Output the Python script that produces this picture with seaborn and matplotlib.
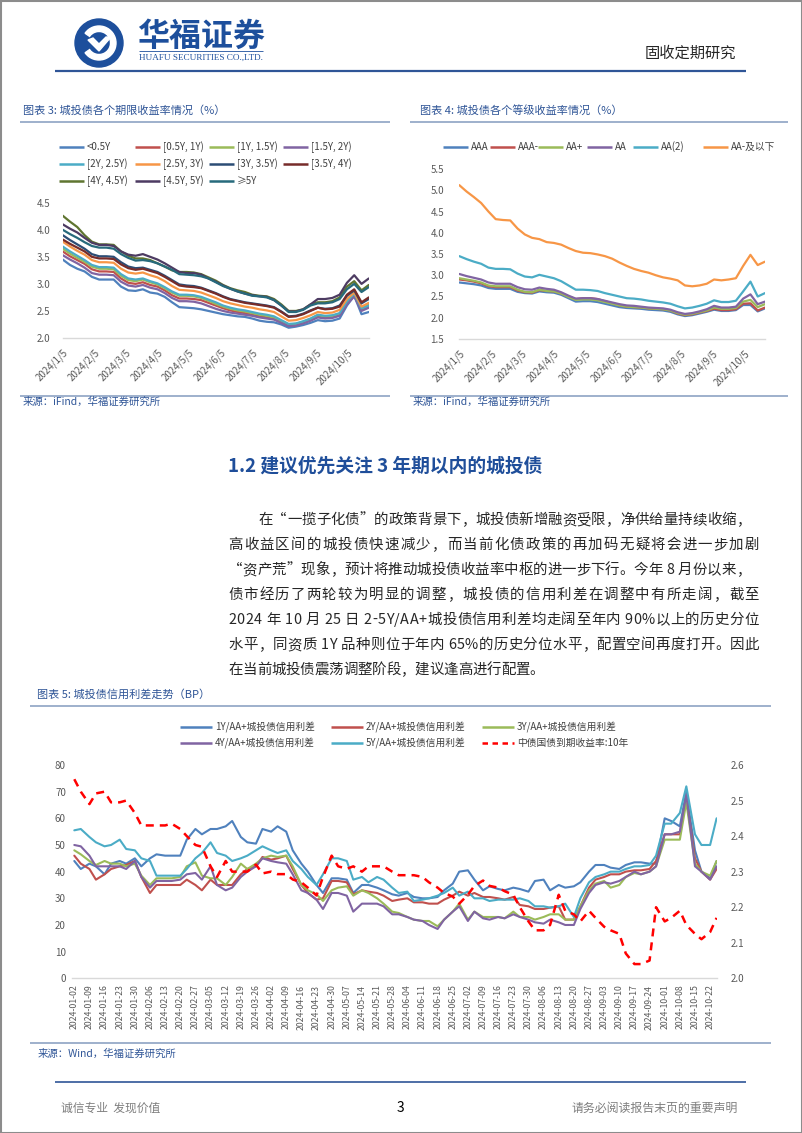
import matplotlib
matplotlib.use("Agg")
import matplotlib.pyplot as plt
from matplotlib.patches import Circle, Wedge, Rectangle, Polygon
from matplotlib.font_manager import FontProperties
import seaborn as sns
import pandas as pd

W, H = 802, 1133
CJK = ['Noto Sans CJK SC', 'DejaVu Sans']

sns.set_theme(style="white")
plt.rcParams['font.family'] = CJK
plt.rcParams['axes.unicode_minus'] = False

# ---------------- chart 3: yields by tenor (weekly) ----------------
tenor_names = ['<0.5Y', '[0.5Y, 1Y)', '[1Y, 1.5Y)', '[1.5Y, 2Y)', '[2Y, 2.5Y)', '[2.5Y, 3Y)',
               '[3Y, 3.5Y)', '[3.5Y, 4Y)', '[4Y, 4.5Y)', '[4.5Y, 5Y)', '≥5Y']
tenor_colors = ['#4f81bd', '#c0504d', '#9bbb59', '#8064a2', '#4bacc6', '#f79646',
                '#2c4d75', '#772c2a', '#5f7530', '#4d3b62', '#276a7c']

y_lt05 = [3.45, 3.35, 3.28, 3.23, 3.13, 3.08, 3.08, 3.08, 2.95, 2.88,
          2.87, 2.90, 2.84, 2.82, 2.76, 2.66, 2.57, 2.56, 2.55, 2.53,
          2.50, 2.47, 2.44, 2.42, 2.40, 2.39, 2.36, 2.32, 2.30, 2.29,
          2.25, 2.19, 2.21, 2.24, 2.28, 2.33, 2.31, 2.32, 2.36, 2.60,
          2.78, 2.44, 2.48]
y_05_1 = [3.60, 3.51, 3.44, 3.37, 3.27, 3.23, 3.23, 3.22, 3.10, 3.02,
          3.00, 3.03, 2.98, 2.95, 2.88, 2.79, 2.73, 2.73, 2.72, 2.70,
          2.65, 2.60, 2.55, 2.51, 2.48, 2.46, 2.43, 2.40, 2.38, 2.35,
          2.29, 2.23, 2.24, 2.28, 2.33, 2.40, 2.38, 2.39, 2.43, 2.64,
          2.79, 2.52, 2.58]
y_1_15 = [3.65, 3.56, 3.48, 3.41, 3.32, 3.28, 3.28, 3.27, 3.15, 3.07,
          3.05, 3.08, 3.03, 2.99, 2.92, 2.84, 2.78, 2.78, 2.77, 2.74,
          2.69, 2.63, 2.58, 2.54, 2.51, 2.49, 2.46, 2.43, 2.41, 2.38,
          2.31, 2.25, 2.26, 2.30, 2.35, 2.42, 2.40, 2.41, 2.45, 2.66,
          2.80, 2.54, 2.62]
y_15_2 = [3.53, 3.45, 3.38, 3.30, 3.20, 3.17, 3.17, 3.16, 3.04, 2.97,
          2.95, 2.98, 2.93, 2.90, 2.83, 2.74, 2.68, 2.68, 2.67, 2.64,
          2.59, 2.54, 2.50, 2.47, 2.45, 2.43, 2.41, 2.38, 2.36, 2.34,
          2.28, 2.22, 2.23, 2.27, 2.32, 2.38, 2.36, 2.37, 2.41, 2.62,
          2.77, 2.50, 2.56]
y_2_25 = [3.69, 3.60, 3.52, 3.44, 3.35, 3.31, 3.31, 3.30, 3.18, 3.10,
          3.08, 3.10, 3.05, 3.01, 2.94, 2.86, 2.80, 2.80, 2.79, 2.76,
          2.71, 2.66, 2.60, 2.56, 2.53, 2.51, 2.48, 2.45, 2.43, 2.40,
          2.33, 2.26, 2.27, 2.31, 2.36, 2.43, 2.41, 2.42, 2.46, 2.68,
          2.82, 2.55, 2.60]
y_25_3 = [3.78, 3.69, 3.61, 3.54, 3.44, 3.40, 3.40, 3.39, 3.28, 3.21,
          3.19, 3.21, 3.16, 3.12, 3.05, 2.96, 2.89, 2.88, 2.87, 2.84,
          2.79, 2.74, 2.68, 2.64, 2.61, 2.58, 2.56, 2.53, 2.51, 2.48,
          2.40, 2.32, 2.33, 2.37, 2.42, 2.48, 2.46, 2.47, 2.52, 2.72,
          2.84, 2.58, 2.65]
y_3_35 = [3.90, 3.81, 3.73, 3.65, 3.55, 3.51, 3.51, 3.50, 3.40, 3.32,
          3.29, 3.30, 3.26, 3.22, 3.15, 3.07, 2.99, 2.97, 2.96, 2.93,
          2.88, 2.83, 2.77, 2.72, 2.69, 2.66, 2.64, 2.62, 2.60, 2.57,
          2.49, 2.40, 2.41, 2.45, 2.51, 2.56, 2.54, 2.55, 2.60, 2.78,
          2.88, 2.64, 2.72]
y_35_4 = [3.82, 3.74, 3.67, 3.60, 3.50, 3.47, 3.47, 3.46, 3.36, 3.29,
          3.26, 3.28, 3.24, 3.20, 3.13, 3.05, 2.97, 2.95, 2.94, 2.92,
          2.87, 2.82, 2.76, 2.71, 2.68, 2.65, 2.63, 2.61, 2.59, 2.56,
          2.48, 2.39, 2.40, 2.44, 2.50, 2.56, 2.53, 2.54, 2.58, 2.80,
          2.90, 2.66, 2.75]
y_4_45 = [4.26, 4.15, 4.05, 3.90, 3.78, 3.73, 3.73, 3.72, 3.60, 3.52,
          3.47, 3.47, 3.44, 3.38, 3.32, 3.25, 3.22, 3.22, 3.21, 3.18,
          3.12, 3.06, 2.98, 2.92, 2.88, 2.85, 2.80, 2.78, 2.77, 2.72,
          2.62, 2.50, 2.50, 2.53, 2.62, 2.66, 2.66, 2.68, 2.75, 2.95,
          3.05, 2.88, 2.98]
y_45_5 = [4.10, 4.02, 3.95, 3.85, 3.76, 3.72, 3.72, 3.70, 3.60, 3.54,
          3.52, 3.55, 3.50, 3.45, 3.38, 3.30, 3.22, 3.20, 3.20, 3.17,
          3.10, 3.04, 2.97, 2.91, 2.86, 2.82, 2.79, 2.77, 2.76, 2.70,
          2.60, 2.49, 2.49, 2.53, 2.62, 2.72, 2.72, 2.74, 2.80, 3.02,
          3.16, 3.00, 3.10]
y_5p = [4.00, 3.92, 3.85, 3.77, 3.70, 3.67, 3.67, 3.65, 3.55, 3.48,
        3.43, 3.44, 3.42, 3.38, 3.32, 3.26, 3.18, 3.17, 3.16, 3.14,
        3.10, 3.03, 2.96, 2.91, 2.86, 2.82, 2.78, 2.77, 2.75, 2.70,
        2.60, 2.48, 2.48, 2.52, 2.60, 2.64, 2.64, 2.66, 2.72, 2.90,
        3.00, 2.85, 2.94]

# ---------------- chart 4: yields by rating (weekly) ----------------
rating_names = ['AAA', 'AAA-', 'AA+', 'AA', 'AA(2)', 'AA-及以下']
rating_colors = ['#4f81bd', '#c0504d', '#9bbb59', '#8064a2', '#4bacc6', '#f79646']

r_aaa = [2.83, 2.81, 2.79, 2.76, 2.70, 2.68, 2.68, 2.68, 2.61, 2.58,
         2.57, 2.62, 2.60, 2.59, 2.54, 2.46, 2.38, 2.39, 2.39, 2.37,
         2.33, 2.29, 2.25, 2.23, 2.22, 2.21, 2.19, 2.18, 2.17, 2.14,
         2.08, 2.04, 2.06, 2.10, 2.14, 2.19, 2.16, 2.16, 2.18, 2.30,
         2.30, 2.15, 2.22]
r_aaa_m = [2.90, 2.88, 2.85, 2.81, 2.74, 2.72, 2.72, 2.72, 2.64, 2.60,
           2.59, 2.65, 2.63, 2.62, 2.57, 2.50, 2.44, 2.46, 2.46, 2.44,
           2.39, 2.34, 2.29, 2.26, 2.25, 2.24, 2.22, 2.21, 2.20, 2.17,
           2.10, 2.06, 2.08, 2.12, 2.16, 2.21, 2.18, 2.18, 2.20, 2.33,
           2.34, 2.17, 2.24]
r_aa_p = [2.93, 2.90, 2.87, 2.83, 2.76, 2.74, 2.74, 2.74, 2.66, 2.61,
          2.60, 2.66, 2.63, 2.62, 2.57, 2.49, 2.42, 2.43, 2.43, 2.41,
          2.37, 2.33, 2.29, 2.26, 2.25, 2.24, 2.22, 2.21, 2.20, 2.17,
          2.11, 2.07, 2.09, 2.13, 2.17, 2.24, 2.21, 2.21, 2.23, 2.38,
          2.42, 2.25, 2.32]
r_aa = [3.03, 2.98, 2.94, 2.90, 2.83, 2.80, 2.80, 2.80, 2.72, 2.67,
        2.66, 2.71, 2.68, 2.66, 2.60, 2.52, 2.45, 2.46, 2.46, 2.44,
        2.40, 2.36, 2.32, 2.29, 2.28, 2.26, 2.24, 2.23, 2.22, 2.19,
        2.13, 2.09, 2.11, 2.15, 2.20, 2.28, 2.24, 2.24, 2.26, 2.45,
        2.55, 2.32, 2.38]
r_aa2 = [3.45, 3.38, 3.32, 3.27, 3.18, 3.15, 3.15, 3.14, 3.04, 2.97,
         2.95, 3.01, 2.97, 2.93, 2.86, 2.76, 2.66, 2.66, 2.65, 2.63,
         2.58, 2.54, 2.50, 2.46, 2.45, 2.43, 2.40, 2.38, 2.36, 2.33,
         2.27, 2.22, 2.24, 2.28, 2.33, 2.41, 2.37, 2.37, 2.40, 2.62,
         2.85, 2.50, 2.58]
r_aa_low = [5.12, 4.97, 4.84, 4.70, 4.50, 4.32, 4.30, 4.29, 4.10, 3.96,
            3.88, 3.85, 3.78, 3.76, 3.72, 3.64, 3.57, 3.53, 3.52, 3.49,
            3.45, 3.39, 3.30, 3.22, 3.15, 3.10, 3.06, 3.00, 2.95, 2.92,
            2.88, 2.76, 2.74, 2.76, 2.80, 2.90, 2.88, 2.90, 2.93, 3.22,
            3.48, 3.24, 3.32]

# ---------------- chart 5: credit spreads (Tue / Fri samples) ----------------
spread_names = ['1Y/AA+城投债信用利差', '2Y/AA+城投债信用利差', '3Y/AA+城投债信用利差',
                '4Y/AA+城投债信用利差', '5Y/AA+城投债信用利差']
spread_colors = ['#4f81bd', '#c0504d', '#9bbb59', '#8064a2', '#4bacc6']
gov_name = '中债国债到期收益率:10年'

sp_1y = [44, 41, 43, 42, 39, 43, 44, 43, 45, 42,
         45, 46.5, 46, 46, 46, 52, 56, 54, 56, 56,
         57, 59, 53, 51, 50.5, 56, 55, 57, 55, 48,
         43, 40, 35, 32, 37.5, 37.5, 37, 32, 35, 35,
         34, 33, 31.5, 31,
         32, 30.5, 30, 30, 30.5, 33, 35.5, 40, 40.5, 37,
         33, 34.5, 33.5, 33, 34, 33.5, 32.5, 36.5, 37, 33,
         35, 34, 34.5, 36, 40, 42.5, 42.5, 41.5, 41, 42.5,
         43.5, 43.5, 43, 43, 60, 59, 57, 70, 48, 40,
         37.5, 44]
sp_2y = [46, 43, 41, 37, 39, 41, 42, 42.5, 44, 38,
         32, 35, 35, 35, 35, 37, 35, 33, 37, 35,
         35, 35, 39, 41, 42, 45.5, 44.5, 45, 46, 41,
         35, 32, 29.5, 30, 36.5, 36.5, 36, 31.5, 33, 32.5,
         32, 31, 29, 29.5,
         30, 28.5, 28.5, 28, 28, 29.5, 31, 32.5, 31, 32,
         30.5, 30.5, 30, 29.5, 30.5, 27.5, 27, 26, 26, 26.5,
         27, 22, 22, 27, 34, 37, 38, 39, 39, 40,
         40.5, 40.5, 41, 44, 54, 54, 54, 68, 45, 40,
         37, 41]
sp_3y = [48, 46.5, 44, 42.5, 44, 43, 43, 42, 43, 38.5,
         35, 37.5, 37.5, 37.5, 38, 42, 43.5, 38.5, 37.5, 37.5,
         35, 38, 43, 41, 43, 45, 46, 45.5, 46, 42,
         35, 33, 31.5, 29, 33, 34, 34.5, 31, 33, 32,
         30, 28, 25, 24.5,
         23, 22, 21.5, 21.5, 19.5, 22, 25, 28, 22, 25,
         23, 23, 23, 22.5, 25, 23, 23, 22, 23, 24,
         24, 22, 22, 27, 33, 35.5, 36.5, 34, 35, 38,
         39.5, 39, 40, 42, 52, 52, 52, 66, 43, 40,
         38.5, 44]
sp_4y = [50, 49.5, 46, 42, 42, 42, 42, 41, 44, 38,
         34, 36.5, 36.5, 36.5, 37, 39, 39.5, 37, 42, 35,
         33, 34, 38, 40, 42, 45, 44, 43.5, 43, 39,
         33, 32, 29.5, 26, 32, 32, 31, 25, 28, 28,
         28, 27, 24, 24,
         23, 22, 21.5, 20, 18.5, 22, 25, 27, 21.5, 25,
         22.5, 22, 23, 22.5, 24, 23, 22, 21, 20.5, 22,
         21, 20, 20, 26, 32, 35, 36, 35.5, 36.5, 38,
         40, 39, 40, 42, 54, 54, 55, 69, 42, 40,
         37, 42]
sp_5y = [55.5, 56, 53, 51, 49.5, 50, 52, 48.5, 48, 45,
         44, 38.5, 38.5, 38.5, 38.5, 41, 45, 47, 51, 47,
         46, 44, 45, 46, 48, 49.5, 48, 47, 48, 44,
         41, 38, 35, 39, 45, 45, 44, 37, 38, 36,
         38, 37, 34, 32,
         32.5, 29, 29.5, 30, 31, 32, 34, 31, 32.5, 30,
         30, 29, 29.5, 29.5, 29.5, 30, 29, 27, 27, 26.5,
         27, 28, 23, 30, 36, 38, 39, 40, 40, 41,
         42, 42, 42.5, 46, 58, 58, 62, 72, 54, 50,
         50, 60]
gov_10y = [2.560, 2.525, 2.490, 2.520, 2.525, 2.495, 2.495, 2.500, 2.465, 2.430,
           2.430, 2.430, 2.430, 2.435, 2.420, 2.400, 2.375, 2.370, 2.315, 2.285,
           2.330, 2.300, 2.300, 2.300, 2.320, 2.295, 2.300, 2.293, 2.293, 2.278,
           2.270, 2.255, 2.233, 2.285, 2.345, 2.315, 2.308, 2.315, 2.300, 2.315,
           2.315, 2.315, 2.300, 2.290,
           2.290, 2.290, 2.285, 2.270, 2.255, 2.240, 2.230, 2.210, 2.235, 2.260,
           2.275, 2.260, 2.255, 2.245, 2.235, 2.200, 2.160, 2.135, 2.135, 2.150,
           2.235, 2.190, 2.180, 2.160, 2.190, 2.170, 2.145, 2.135, 2.125, 2.070,
           2.040, 2.040, 2.050, 2.200, 2.160, 2.170, 2.190, 2.150, 2.125, 2.110,
           2.130, 2.170]

# ---------------- page text ----------------
para_lines = [
    "在“一揽子化债”的政策背景下，城投债新增融资受限，净供给量持续收缩，",
    "高收益区间的城投债快速减少，而当前化债政策的再加码无疑将会进一步加剧",
    "“资产荒”现象，预计将推动城投债收益率中枢的进一步下行。今年 8 月份以来，",
    "债市经历了两轮较为明显的调整，城投债的信用利差在调整中有所走阔，截至",
    "2024 年 10 月 25 日 2-5Y/AA+城投债信用利差均走阔至年内 90%以上的历史分位",
    "水平，同资质 1Y 品种则位于年内 65%的历史分位水平，配置空间再度打开。因此",
    "在当前城投债震荡调整阶段，建议逢高进行配置。",
]

weeks = pd.date_range("2024-01-05", periods=43, freq="7D")
tues = pd.date_range("2024-01-02", periods=43, freq="7D")
dates5 = []
for t in tues:
    dates5 += [t, t + pd.Timedelta(days=3)]

BLUE = '#2f5597'
RULE = '#8ea3c4'
TICK = '#595959'

fig = plt.figure(figsize=(W / 100, H / 100), dpi=100)
page = fig.add_axes([0, 0, 1, 1])
page.set_xlim(0, W)
page.set_ylim(H, 0)
page.axis('off')


def rect(x0, y0, x1, y1):
    return [x0 / W, 1 - y1 / H, (x1 - x0) / W, (y1 - y0) / H]


def hline(x0, x1, y, color=RULE, lw=1.2):
    page.plot([x0, x1], [y, y], color=color, lw=lw, solid_capstyle='butt')


def legend_item(x, y, label, color, length=25, ls='-', lw=1.8, fs=7):
    page.plot([x, x + length], [y, y], color=color, lw=lw, ls=ls, solid_capstyle='butt')
    page.text(x + length + 3, y, label, fontsize=fs, color='#404040', va='center', ha='left')


def style_axis(ax, fs=7):
    ax.patch.set_alpha(0)
    for s in ['top', 'right', 'left']:
        ax.spines[s].set_visible(False)
    ax.spines['bottom'].set_color('#d9d9d9')
    ax.spines['bottom'].set_linewidth(1.0)
    ax.tick_params(axis='y', length=0, labelsize=fs, labelcolor=TICK)
    ax.tick_params(axis='x', length=3, width=0.8, color='#d9d9d9', labelsize=fs, labelcolor=TICK)
    ax.set_xlabel('')
    ax.set_ylabel('')
    ax.grid(False)


# ---------- header ----------
page.add_patch(Rectangle((0.5, 0.5), W - 1, H - 1, fill=False, edgecolor='#8c8c8c', lw=1.5))
page.add_patch(Circle((99, 43), 24, color='#1d4f9c'))
page.add_patch(Wedge((99, 43), 17, 215, 505, width=5.5, color='white'))
page.add_patch(Polygon([[88, 40], [99, 51], [111, 37], [106, 37], [99, 44], [93, 38]], closed=True, color='white'))
page.text(137, 37, '华福证券', fontsize=23, fontweight='bold', color='#1d4f9c', va='center', ha='left')
hline(139, 263, 51, color='#1d4f9c', lw=0.6)
page.text(139, 58, 'HUAFU SECURITIES CO.,LTD.', fontsize=6.6, family='Liberation Serif',
          color='#1d4f9c', va='center', ha='left')
page.text(645, 53, '固收定期研究', fontsize=11, color='#262626', va='center', ha='left')
hline(55, 746, 71, color=BLUE, lw=1.6)

# ---------- chart 3 ----------
page.text(23, 110, '图表 3: 城投债各个期限收益率情况（%）', fontsize=8, color=BLUE, va='center', ha='left',
          style='italic')
hline(20, 390, 122)
tenor_series = [y_lt05, y_05_1, y_1_15, y_15_2, y_2_25, y_25_3, y_3_35, y_35_4, y_4_45, y_45_5, y_5p]
df3 = pd.concat([pd.DataFrame({'date': weeks, 'value': v, 'series': n})
                 for n, v in zip(tenor_names, tenor_series)])
ax3 = fig.add_axes(rect(62.7, 202.7, 368.8, 338))
sns.lineplot(data=df3, x='date', y='value', hue='series', hue_order=tenor_names,
             palette=tenor_colors, linewidth=1.6, legend=False, ax=ax3)
ax3.set_xlim(weeks[0], weeks[-1])
ax3.set_ylim(2.0, 4.5)
ax3.set_yticks([2.0, 2.5, 3.0, 3.5, 4.0, 4.5])
ax3.set_yticklabels([f'{v:.1f}' for v in [2.0, 2.5, 3.0, 3.5, 4.0, 4.5]])
month5 = [pd.Timestamp(2024, m, 5) for m in range(1, 11)]
ax3.set_xticks(month5)
ax3.set_xticklabels([f'2024/{m}/5' for m in range(1, 11)], rotation=45, ha='right', rotation_mode='anchor')
style_axis(ax3, fs=7)
ax3.tick_params(axis='y', pad=9)
cols3 = [59, 135, 209, 283]
rows3 = [147, 164, 181]
for i, (n, c) in enumerate(zip(tenor_names, tenor_colors)):
    legend_item(cols3[i % 4], rows3[i // 4], n, c)
hline(20, 390, 396)
page.text(23, 402, '来源：iFind，华福证券研究所', fontsize=7.5, color=BLUE, va='center', ha='left')

# ---------- chart 4 ----------
page.text(420, 110, '图表 4: 城投债各个等级收益率情况（%）', fontsize=8, color=BLUE, va='center', ha='left',
          style='italic')
hline(410, 788, 122)
rating_series = [r_aaa, r_aaa_m, r_aa_p, r_aa, r_aa2, r_aa_low]
df4 = pd.concat([pd.DataFrame({'date': weeks, 'value': v, 'series': n})
                 for n, v in zip(rating_names, rating_series)])
ax4 = fig.add_axes(rect(459.3, 169, 765, 339))
sns.lineplot(data=df4, x='date', y='value', hue='series', hue_order=rating_names,
             palette=rating_colors, linewidth=1.6, legend=False, ax=ax4)
ax4.set_xlim(weeks[0], weeks[-1])
ax4.set_ylim(1.5, 5.5)
yt4 = [1.5, 2.0, 2.5, 3.0, 3.5, 4.0, 4.5, 5.0, 5.5]
ax4.set_yticks(yt4)
ax4.set_yticklabels([f'{v:.1f}' for v in yt4])
ax4.set_xticks(month5)
ax4.set_xticklabels([f'2024/{m}/5' for m in range(1, 11)], rotation=45, ha='right', rotation_mode='anchor')
style_axis(ax4, fs=7)
ax4.tick_params(axis='y', pad=11)
leg4_x = [443, 490, 538, 587, 633, 703]
for x, n, c in zip(leg4_x, rating_names, rating_colors):
    legend_item(x, 147, n, c)
hline(410, 788, 396)
page.text(413, 402, '来源：iFind，华福证券研究所', fontsize=7.5, color=BLUE, va='center', ha='left')

# ---------- section text ----------
page.text(228, 466, '1.2 建议优先关注 3 年期以内的城投债', fontsize=13.5, fontweight='bold',
          color='#1f4e9a', va='center', ha='left')

renderer = fig.canvas.get_renderer()
body_fp = FontProperties(family=CJK, size=10.4)


def ink_w(s):
    if not s.strip():
        return 0.0
    return renderer.get_text_width_height_descent(s, body_fp, ismath=False)[0]


def put_line(line, x0, x1, y, justify=True):
    full = ink_w(line)
    n = len(line)
    extra = (x1 - x0 - full) / (n - 1) if justify and n > 1 else 0.0
    for i, ch in enumerate(line):
        if ch == ' ':
            continue
        x = x0 + ink_w(line[:i + 1]) - ink_w(ch) + i * extra
        page.text(x, y, ch, fontproperties=body_fp, color='#262626', va='center', ha='left')


para_y = [520, 545, 570, 595, 620, 645, 670]
for k, (line, y) in enumerate(zip(para_lines, para_y)):
    x0 = 258 if k == 0 else 228
    x1 = 750 if line.endswith('，') else 759
    put_line(line, x0, x1, y, justify=(k < len(para_lines) - 1))

# ---------- chart 5 ----------
page.text(37, 695, '图表 5: 城投债信用利差走势（BP）', fontsize=8, color=BLUE, va='center', ha='left',
          style='italic')
hline(30, 771, 706)
spread_series = [sp_1y, sp_2y, sp_3y, sp_4y, sp_5y]
df5 = pd.concat([pd.DataFrame({'date': dates5, 'value': v, 'series': n})
                 for n, v in zip(spread_names, spread_series)])
ax5 = fig.add_axes(rect(71.5, 765, 716.6, 978.3))
sns.lineplot(data=df5, x='date', y='value', hue='series', hue_order=spread_names,
             palette=spread_colors, linewidth=1.5, legend=False, ax=ax5)
ax5.set_xlim(pd.Timestamp('2024-01-02') - pd.Timedelta(hours=31), pd.Timestamp('2024-10-25'))
ax5.set_ylim(0, 80)
ax5.set_yticks(range(0, 81, 10))
ax5.set_xticks(tues)
ax5.set_xticklabels([d.strftime('%Y-%m-%d') for d in tues], rotation=90, ha='center', va='top')
style_axis(ax5, fs=7)
ax5.tick_params(axis='x', labelsize=6.3, pad=1.5)
ax5.tick_params(axis='y', pad=4)

ax5r = ax5.twinx()
df5g = pd.DataFrame({'date': dates5, 'value': gov_10y})
sns.lineplot(data=df5g, x='date', y='value', color='#ff0000', linewidth=1.8,
             linestyle=(0, (3.2, 2.4)), legend=False, ax=ax5r)
ax5r.set_xlim(ax5.get_xlim())
ax5r.set_ylim(2.0, 2.6)
yt5 = [2.0, 2.1, 2.2, 2.3, 2.4, 2.5, 2.6]
ax5r.set_yticks(yt5)
ax5r.set_yticklabels([f'{v:.1f}' for v in yt5])
ax5r.patch.set_alpha(0)
for s in ['top', 'left', 'bottom', 'right']:
    ax5r.spines[s].set_visible(False)
ax5r.tick_params(axis='y', length=0, labelsize=7, labelcolor=TICK, pad=10)
ax5r.set_ylabel('')
ax5r.grid(False)

leg5_x = [180, 331, 482]
for i, (n, c) in enumerate(zip(spread_names, spread_colors)):
    legend_item(leg5_x[i % 3], [727, 743][i // 3], n, c, length=32, lw=1.8)
legend_item(482, 743, gov_name, '#ff0000', length=32, ls=(0, (2.2, 1.8)), lw=1.8)

hline(30, 771, 1043)
page.text(38, 1054, '来源：Wind，华福证券研究所', fontsize=7.5, color=BLUE, va='center', ha='left')

# ---------- footer ----------
hline(55, 746, 1082, color=BLUE, lw=1.2)
page.text(61, 1108, '诚信专业  发现价值', fontsize=8.5, color='#7f7f7f', va='center', ha='left')
page.text(400, 1108, '3', fontsize=10, color='#000000', va='center', ha='center')
page.text(738, 1108, '请务必阅读报告末页的重要声明', fontsize=8.6, color='#7f7f7f', va='center', ha='right')

fig.savefig('out.png', dpi=100)
